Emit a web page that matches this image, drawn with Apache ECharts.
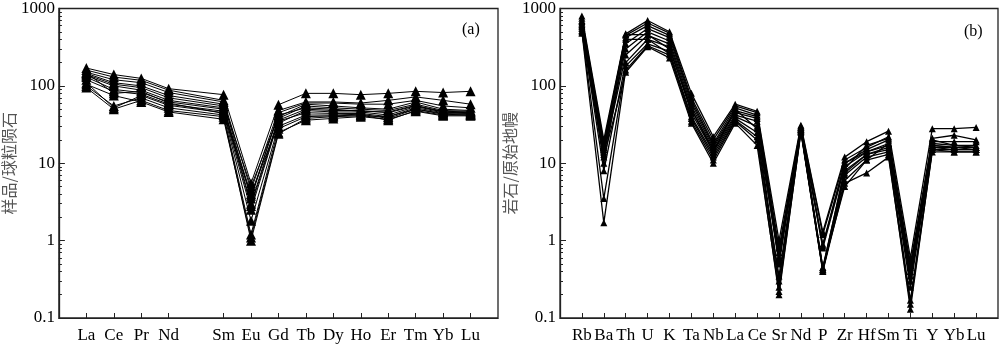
<!DOCTYPE html>
<html><head><meta charset="utf-8">
<script src="https://cdn.jsdelivr.net/npm/echarts@6/dist/echarts.min.js"></script>
<style>html,body{margin:0;padding:0;background:#fff}#c{width:1000px;height:344px}</style>
</head><body><div id="c"></div>
<script>
// ---- Panel (a): chondrite-normalised REE ----
const reeCats = ['La','Ce','Pr','Nd','Pm','Sm','Eu','Gd','Tb','Dy','Ho','Er','Tm','Yb','Lu'];
// values for La Ce Pr Nd (Pm=null) Sm Eu Gd Tb Dy Ho Er Tm Yb Lu
const reeS1  = [170,140,125, 92,null,77,5.5,57,80,80,77,80,85,82,85];
const reeS2  = [160,130,118, 88,null,65,4.5,48,62,62,60,65,72,65,58];
const reeS3  = [150,120,110, 82,null,62,3.5,45,60,60,58,58,65,55,52];
const reeS4  = [145,110,100, 75,null,58,5.0,40,58,55,52,50,62,50,48];
const reeS5  = [140,105, 95, 70,null,55,3.0,38,55,52,50,48,58,48,47];
const reeS6  = [135,100, 88, 65,null,52,2.8,36,50,48,48,45,55,47,46];
const reeS7  = [130, 90, 82, 62,null,50,4.0,33,48,46,46,42,54,46,45];
const reeS8  = [120, 85, 78, 58,null,47,2.5,35,45,44,44,40,52,45,44];
const reeS9  = [110, 52, 75, 56,null,45,1.8,30,42,42,43,38,50,44,43];
const reeS10 = [100, 55, 70, 52,null,42,1.2,28,40,41,42,36,48,42,42];
const reeS11 = [ 95, 50, 65, 48,null,40,1.0,24,38,40,41,40,50,43,42];
const reeS12 = [105, 75, 62, 46,null,37,1.1,25,36,38,40,37,47,41,41];
const reeS13 = [148, 80, 85, 60,null,44,3.8,42,52,50,47,46,56,46,44];
const reeSeries = [reeS1,reeS2,reeS3,reeS4,reeS5,reeS6,reeS7,reeS8,reeS9,reeS10,reeS11,reeS12,reeS13];

// ---- Panel (b): primitive-mantle-normalised trace elements ----
const traceCats = ['Rb','Ba','Th','U','K','Ta','Nb','La','Ce','Sr','Nd','P','Zr','Hf','Sm','Ti','Y','Yb','Lu'];
const trS1  = [800,20, 470,700,500,80,22,58,47,1.0, 31,1.3, 12, 19,26,0.6, 28,28,29];
const trS2  = [750,18, 450,650,480,70,20,55,45,0.8, 30,1.2, 11, 16,22,0.5, 21,23,20];
const trS3  = [700,16, 420,600,450,65,18,52,42,0.7, 29,0.9, 10, 15,20,0.45,19,19,19];
const trS4  = [650,15, 350,550,420,60,17,48,40,0.6, 28,0.85,10, 14,18,0.4, 18,17,17];
const trS5  = [600,14, 300,500,380,55,16,45,38,0.55,28,0.8,  9, 14,17,0.35,17,16,16];
const trS6  = [580,13, 250,450,350,50,15,42,35,0.5, 27,0.45, 8, 13,16,0.3, 16,16,16];
const trS7  = [550, 8, 200,400,320,45,14,40,30,0.3, 27,0.42,7.5,13,15,0.25,16,15,15];
const trS8  = [520,3.5,180,350,280,40,13,38,25,0.25,26,0.4,  7, 12,14,0.17,15,15,15];
const trS9  = [500,1.7,160,330,250,35,11,35,20,0.2, 26,0.42, 6, 11,13,0.13,15,14,14];
const trS10 = [480,12, 150,320,230,33,10,33,17,0.22,25,0.4, 5.5,7.5,12,0.15,14,14,14];
const trS11 = [620,17, 460,460,300,50,14,50,28,0.6, 29,0.45, 5, 11,18,0.3, 17,16,15];
const trS12 = [680,10, 400,400,260,38,12,36,22,0.35,27,0.43,8.5,17,21,0.4, 20,17,16];
const traceSeries = [trS1,trS2,trS3,trS4,trS5,trS6,trS7,trS8,trS9,trS10,trS11,trS12];

// ---- axis ticks ----
const yMajorTicks = [0.1,1,10,100,1000];
const yMinorTicks = [];
for (const d of [0.1,1,10,100]) for (let m=2;m<=9;m++) yMinorTicks.push(+(m*d).toPrecision(3));

const serif = '"Liberation Serif","Times New Roman",serif';
const cjk = '"Noto Sans CJK SC",sans-serif';
const axisColor = '#222';

function xAxisFor(gi, cats){
  const pos = cats.map((c,i)=>i+1).filter(i=>cats[i-1] !== 'Pm');
  return {
    type:'value', gridIndex:gi, min:0, max:cats.length+1,
    splitLine:{show:false},
    axisLine:{show:true, onZero:false, lineStyle:{color:axisColor,width:1}},
    axisTick:{show:true, inside:true, length:5, customValues:pos, lineStyle:{color:axisColor}},
    axisLabel:{show:true, customValues:pos, formatter:v=>cats[Math.round(v)-1], color:'#000',
      fontFamily:serif, fontSize:17, margin:9}
  };
}
function yAxesFor(gi, name, gap){
  return [{
    type:'log', gridIndex:gi, min:0.1, max:1000, logBase:10,
    name:name, nameLocation:'middle', nameRotate:90, nameGap:gap,
    nameTextStyle:{fontFamily:cjk, fontSize:16, color:'#555'},
    splitLine:{show:false},
    axisLine:{show:true, lineStyle:{color:axisColor,width:1.3}},
    axisTick:{show:true, inside:true, length:6, customValues:yMajorTicks, lineStyle:{color:axisColor}},
    axisLabel:{show:true, customValues:yMajorTicks, color:'#000', fontFamily:serif, fontSize:17, margin:4,
      formatter:v=>String(v)},
    minorTick:{show:false}
  },{
    type:'log', gridIndex:gi, min:0.1, max:1000, logBase:10, position:'left',
    splitLine:{show:false}, axisLine:{show:false}, axisLabel:{show:false},
    axisTick:{show:true, inside:true, length:3, customValues:yMinorTicks, lineStyle:{color:axisColor}}
  }];
}

function lineSeries(list, cats, xi, yi, sym, lw){
  return list.map(vals=>({
    type:'line', xAxisIndex:xi, yAxisIndex:yi,
    data: vals.map((v,i)=>[i+1, v]).filter(p=>p[1]!==null),
    symbol:'triangle', symbolSize:sym, showSymbol:true,
    itemStyle:{color:'#000'}, lineStyle:{color:'#000', width:lw},
    animation:false, silent:true
  }));
}

const yA = yAxesFor(0,'样品/球粒陨石',32);
const yB = yAxesFor(1,'岩石/原始地幔',32);

const option = {
  animation:false,
  backgroundColor:'#fff',
  grid:[
    {left:50, top:6, width:448, height:319, show:true, borderColor:axisColor, borderWidth:1.3, backgroundColor:'transparent'},
    {left:560, top:6, width:438, height:319, show:true, borderColor:axisColor, borderWidth:1.3, backgroundColor:'transparent'}
  ],
  xAxis:[xAxisFor(0, reeCats), xAxisFor(1, traceCats)],
  yAxis:[yA[0], yA[1], yB[0], yB[1]],
  graphic:[
    {type:'text', left:462, top:22, style:{text:'(a)', font:'16px '+serif, fill:'#000'}},
    {type:'text', left:964, top:24, style:{text:'(b)', font:'16px '+serif, fill:'#000'}}
  ],
  series:[
    ...lineSeries(reeSeries, reeCats, 0, 0, 10, 1),
    ...lineSeries(traceSeries, traceCats, 1, 2, 7, 1.3)
  ]
};
const chart = echarts.init(document.getElementById('c'), null, {renderer:'canvas'});
chart.setOption(option);
</script></body></html>
